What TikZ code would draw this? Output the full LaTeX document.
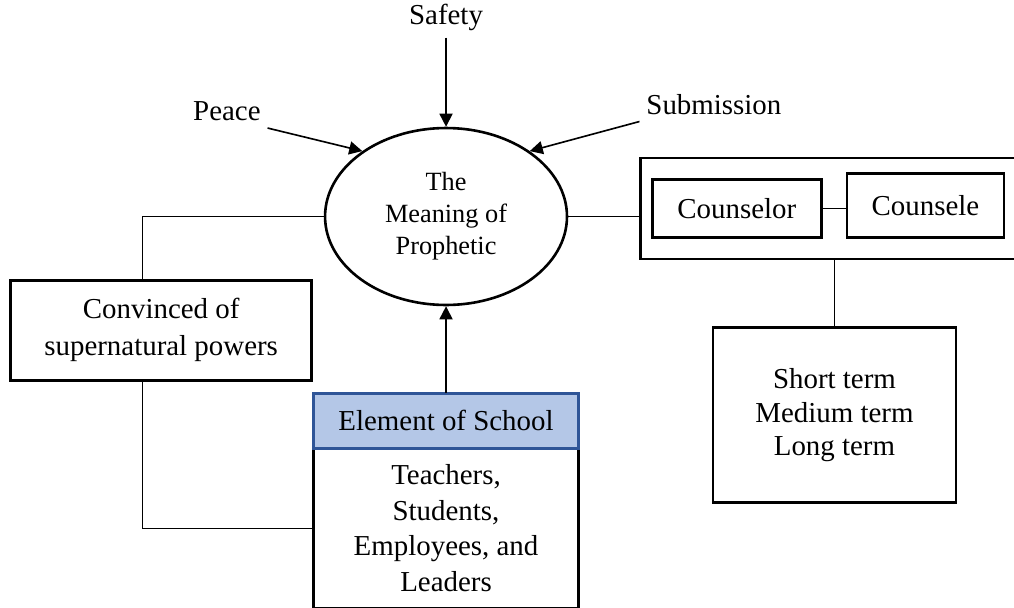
\documentclass[tikz,border=0pt]{standalone}
\usepackage{fontspec}
\setmainfont{Liberation Serif}
\usetikzlibrary{shapes,arrows.meta,positioning}
\definecolor{headblue}{RGB}{180,199,231}
\definecolor{headline}{RGB}{47,85,151}

\begin{document}
\begin{tikzpicture}[
      node distance=30pt,
      every node/.style={font=\fontsize{13.3}{16}\selectfont},
      oval/.style={ellipse, draw, line width=1.2pt, minimum width=111.3pt, minimum height=81.4pt, inner sep=0pt, align=center, font=\fontsize{12.1}{14.7}\selectfont},
      box/.style={rectangle, draw, line width=1.2pt, align=center},
      head/.style={rectangle, draw=headline, fill=headblue, line width=1.2pt, minimum width=121.9pt, minimum height=25.3pt, outer sep=0pt},
      word/.style={inner sep=3pt},
      arrow/.style={-{Triangle[length=6pt,width=6pt]}, line width=0.75pt},
      link/.style={line width=0.6pt}
    ]
      \useasboundingbox (-205.2pt,-180.1pt) rectangle (261.3pt,99.6pt);
      \clip (-205.2pt,-180.1pt) rectangle (261.3pt,99.6pt);

      \node[oval] (meaning) {The\\Meaning of\\Prophetic};

      % the three values pointing in
      \node[word, above=41pt of meaning] (safety) {Safety};
      \node[word, above left=40.7pt and 82.1pt of meaning.center] (peace) {Peace};
      \node[word, above right=43.7pt and 89pt of meaning.center] (submission) {Submission};

      \node[box, minimum width=138.5pt, minimum height=46pt, font=\fontsize{13.3}{17}\selectfont, below left=28.75pt and 61.2pt of meaning.center] (convinced) {Convinced of\\supernatural powers};

      % school block: body first, header on top of it
      \node[box, minimum width=121.9pt, minimum height=73.6pt, outer sep=0pt, font=\fontsize{13.3}{16.4}\selectfont, below=65.3pt of meaning] (members) {Teachers,\\Students,\\Employees, and\\Leaders};
      \node[head, above=0pt of members] (element) {Element of School};

      % counselling panel on the right
      \node[box, minimum width=178.5pt, minimum height=46.5pt, right=32.6pt of meaning, yshift=3.7pt] (panel) {};
      \node[box, minimum width=77.7pt, minimum height=26.7pt, right=5.5pt of panel.west] (counselor) {Counselor};
      \node[box, minimum width=72.2pt, minimum height=29.4pt, right=10.6pt of counselor, yshift=1.4pt] (counsele) {Counsele};
      \node[box, minimum width=111.8pt, minimum height=80.5pt, font=\fontsize{13.3}{15.4}\selectfont, below=30.4pt of panel] (terms) {Short term\\Medium term\\Long term};

      \draw[arrow] (safety) -- (meaning);
      \draw[arrow] (peace.south east) -- (meaning.142);
      \draw[arrow] (submission.south west) -- (meaning.38);
      \draw[arrow] (element) -- (meaning);

      \draw[link] (meaning.west) -| ([xshift=-8.5pt]convinced.north);
      \draw[link] ([xshift=-8.5pt]convinced.south) |- (members.west);
      \draw[link] (meaning.east) -- (meaning.east -| panel.west);
      \draw[link] (counselor.east) -- (counselor.east -| counsele.west);
      \draw[link] (panel) -- (terms);
    \end{tikzpicture}
\end{document}
